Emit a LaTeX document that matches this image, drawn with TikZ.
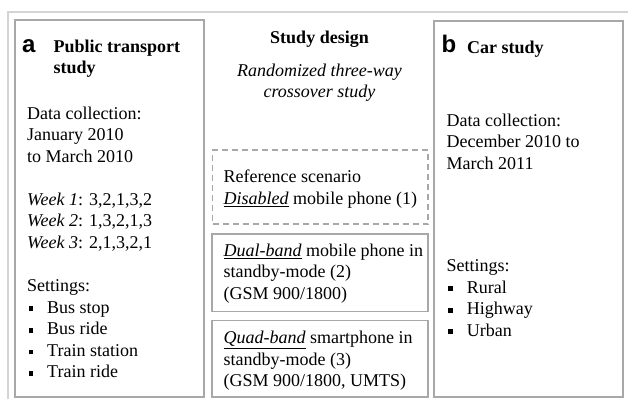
\documentclass[tikz,border=0pt]{standalone}
\usepackage{fontspec}
\setmainfont{Liberation Serif}
\newfontfamily\lblfont{Liberation Sans}
\definecolor{boxgray}{HTML}{A8A8A8}
\definecolor{framegray}{HTML}{D4D4D4}
\newcommand{\sqbul}{\rule[2pt]{4.7pt}{4.7pt}\hspace{14pt}}
\begin{document}
\begin{tikzpicture}[x=1pt,y=-1pt,
  txt/.style={anchor=base west, inner sep=0pt, font=\fontsize{18}{21.6}\selectfont},
  ctxt/.style={anchor=base, inner sep=0pt, font=\fontsize{18}{21.6}\selectfont},
  hd/.style={anchor=base west, inner sep=0pt, font=\fontsize{18}{21.6}\selectfont\bfseries},
  lbl/.style={anchor=base west, inner sep=0pt, font=\fontsize{24}{24}\selectfont\lblfont\bfseries},
  panel/.style={draw=boxgray, line width=1.3pt, inner sep=0pt},
  dpanel/.style={panel, dash pattern=on 6pt off 4pt},
  frame/.style={draw=framegray, line width=1.3pt}]
\useasboundingbox (0,0) rectangle (628,399);
% outer frame
\coordinate (fbl) at (8,399);
\coordinate (ftl) at (8,12);
\coordinate (ftr) at (628,12);
\draw[frame] (fbl) -- (ftl) -- (ftr);
% panels
\node[panel, minimum width=189pt, minimum height=377pt] (boxA) at (109.5,208.5) {};
\node[dpanel, minimum width=215.5pt, minimum height=74pt] (box1) at (320.25,187) {};
\node[panel, minimum width=216pt, minimum height=77.5pt] (box2) at (320,272.75) {};
\node[panel, minimum width=216pt, minimum height=76.5pt] (box3) at (320,358.75) {};
\node[panel, minimum width=189pt, minimum height=376pt] (boxB) at (528.5,209) {};
% left panel
\node[lbl] (la) at (22,52) {a};
\node[hd] (pt1) at (53.5,52) {Public transport};
\node[hd] (pt2) at (53.5,73.5) {study};
\node[txt] (ad1) at (27,119) {Data collection:};
\node[txt] (ad2) at (27,140.6) {January 2010};
\node[txt] (ad3) at (27,162.1) {to March 2010};
\node[txt] (w1) at (27,205.2) {\textit{Week 1}: 3,2,1,3,2};
\node[txt] (w2) at (27,226.8) {\textit{Week 2}: 1,3,2,1,3};
\node[txt] (w3) at (27,248.4) {\textit{Week 3}: 2,1,3,2,1};
\node[txt] (as) at (27,291.5) {Settings:};
\node[txt] (as1) at (28.3,313) {\sqbul Bus stop};
\node[txt] (as2) at (28.3,334.6) {\sqbul Bus ride};
\node[txt] (as3) at (28.3,356.2) {\sqbul Train station};
\node[txt] (as4) at (28.3,377.7) {\sqbul Train ride};
% middle
\node[ctxt, font=\fontsize{18}{21.6}\selectfont\bfseries] (sd) at (319.5,43.5) {Study design};
\node[ctxt, font=\fontsize{18}{21.6}\selectfont\itshape] (rd1) at (319.5,76) {Randomized three-way};
\node[ctxt, font=\fontsize{18}{21.6}\selectfont\itshape] (rd2) at (319.5,97.5) {crossover study};
\node[txt] (r1) at (223.5,182.8) {Reference scenario};
\node[txt] (r2) at (223.5,204.4) {\underline{\textit{Disabled}} mobile phone (1)};
\node[txt] (d1) at (223.5,256.2) {\underline{\textit{Dual-band}} mobile phone in};
\node[txt] (d2) at (223.5,277.8) {standby-mode (2)};
\node[txt] (d3) at (223.5,299.4) {(GSM 900/1800)};
\node[txt] (q1) at (223.5,343.5) {\underline{\textit{Quad-band}} smartphone in};
\node[txt] (q2) at (223.5,365.1) {standby-mode (3)};
\node[txt] (q3) at (223.5,386.7) {(GSM 900/1800, UMTS)};
% right panel
\node[lbl] (lb) at (441.5,52.5) {b};
\node[hd] (cs) at (467,53) {Car study};
\node[txt] (bd1) at (446.5,126.2) {Data collection:};
\node[txt] (bd2) at (446.5,147.8) {December 2010 to};
\node[txt] (bd3) at (446.5,169.3) {March 2011};
\node[txt] (bs) at (446.5,271.5) {Settings:};
\node[txt] (bs1) at (448,293) {\sqbul Rural};
\node[txt] (bs2) at (448,314.5) {\sqbul Highway};
\node[txt] (bs3) at (448,336) {\sqbul Urban};
\end{tikzpicture}
\end{document}
